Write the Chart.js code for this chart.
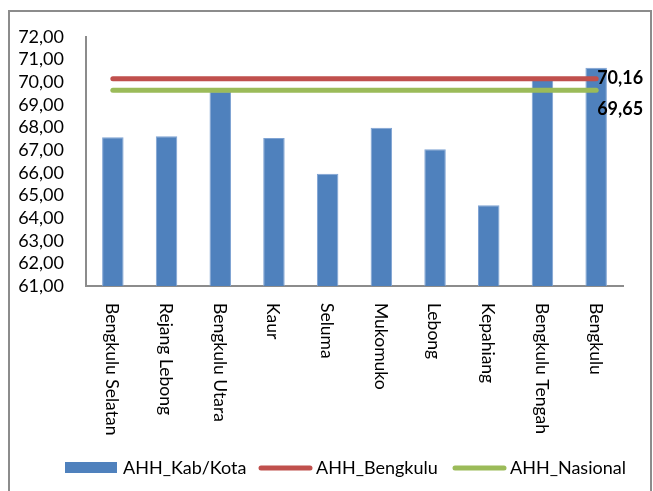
<!DOCTYPE html>
<html>
<head>
<meta charset="utf-8">
<script src="https://cdn.jsdelivr.net/npm/chart.js@4.4.1/dist/chart.umd.min.js"></script>
<style>
    body { margin: 0; background: #fff; }
    #wrap { width: 653px; height: 491px; position: relative; }
</style>
</head>
<body>
<div id="wrap"><canvas id="ahhChart" width="653" height="491"></canvas></div>
<script>
const kabupaten = ["Bengkulu Selatan", "Rejang Lebong", "Bengkulu Utara", "Kaur", "Seluma",
    "Mukomuko", "Lebong", "Kepahiang", "Bengkulu Tengah", "Bengkulu"];
const ahhKabKota = [67.57, 67.61, 69.60, 67.54, 65.96, 67.99, 67.04, 64.57, 70.10, 70.64];
const ahhBengkulu = [70.16, 70.16, 70.16, 70.16, 70.16, 70.16, 70.16, 70.16, 70.16, 70.16];
const ahhNasional = [69.65, 69.65, 69.65, 69.65, 69.65, 69.65, 69.65, 69.65, 69.65, 69.65];
const yTicks = [61, 62, 63, 64, 65, 66, 67, 68, 69, 70, 71, 72];

const BLUE = "#4F81BD";
const RED = "#C0504D";
const GREEN = "#9BBB59";
const AXIS_GRAY = "#8C8C8C";
const FONT = "Lato, 'Open Sans', sans-serif";

function fmt(v) {
    return v.toFixed(2).replace(".", ",");
}

// frame around the whole chart
const framePlugin = {
    id: "frame",
    beforeDraw(chart) {
        const ctx = chart.ctx;
        ctx.save();
        ctx.strokeStyle = AXIS_GRAY;
        ctx.lineWidth = 2;
        ctx.strokeRect(9, 11, 642, 500);
        ctx.restore();
    }
};

// x labels turned clockwise, end labels, legend
const extrasPlugin = {
    id: "extras",
    afterDraw(chart) {
        const ctx = chart.ctx;
        const xScale = chart.scales.x;
        ctx.save();

        ctx.fillStyle = "#000";
        ctx.font = "17.5px " + FONT;
        ctx.textAlign = "left";
        ctx.textBaseline = "middle";
        kabupaten.forEach((name, i) => {
            const x = xScale.getPixelForValue(i);
            ctx.save();
            ctx.translate(x - 1, xScale.top + 17);
            ctx.rotate(Math.PI / 2);
            ctx.fillText(name, 0, 0);
            ctx.restore();
        });

        // value labels at the last point of both lines
        ctx.font = "bold 18px " + FONT;
        const redPt = chart.getDatasetMeta(1).data[ahhBengkulu.length - 1];
        const greenPt = chart.getDatasetMeta(2).data[ahhNasional.length - 1];
        ctx.fillText(fmt(ahhBengkulu[ahhBengkulu.length - 1]), redPt.x + 1, redPt.y);
        ctx.fillText(fmt(ahhNasional[ahhNasional.length - 1]), greenPt.x + 1, greenPt.y + 19);

        // legend
        const items = [
            { text: "AHH_Kab/Kota", color: BLUE, bar: true, x: 65 },
            { text: "AHH_Bengkulu", color: RED, bar: false, x: 258 },
            { text: "AHH_Nasional", color: GREEN, bar: false, x: 452 }
        ];
        const ly = 468;
        ctx.font = "18px " + FONT;
        items.forEach(item => {
            if (item.bar) {
                ctx.fillStyle = item.color;
                ctx.fillRect(item.x, ly - 6, 52, 11);
            } else {
                ctx.strokeStyle = item.color;
                ctx.lineWidth = 5;
                ctx.lineCap = "round";
                ctx.beginPath();
                ctx.moveTo(item.x + 3, ly);
                ctx.lineTo(item.x + 52, ly);
                ctx.stroke();
            }
            ctx.fillStyle = "#000";
            ctx.fillText(item.text, item.x + 58, ly);
        });

        ctx.restore();
    }
};

const ctx = document.getElementById("ahhChart").getContext("2d");
new Chart(ctx, {
    data: {
        labels: kabupaten,
        datasets: [
            {
                type: "bar",
                label: "AHH_Kab/Kota",
                data: ahhKabKota,
                backgroundColor: BLUE,
                borderColor: "#7FA3D3",
                borderWidth: { top: 1, left: 1, right: 1, bottom: 0 },
                barPercentage: 0.4,
                categoryPercentage: 1,
                order: 3
            },
            {
                type: "line",
                label: "AHH_Bengkulu",
                data: ahhBengkulu,
                borderColor: RED,
                borderWidth: 5,
                borderCapStyle: "round",
                pointRadius: 0,
                fill: false,
                order: 2
            },
            {
                type: "line",
                label: "AHH_Nasional",
                data: ahhNasional,
                borderColor: GREEN,
                borderWidth: 5,
                borderCapStyle: "round",
                pointRadius: 0,
                fill: false,
                order: 1
            }
        ]
    },
    options: {
        responsive: false,
        animation: false,
        layout: {
            padding: { left: 10, top: 37, right: 30, bottom: 55 }
        },
        scales: {
            x: {
                grid: { display: false, drawTicks: false },
                border: { color: AXIS_GRAY, width: 2 },
                ticks: { display: false },
                afterFit(scale) { scale.height = 150; }
            },
            y: {
                min: 61,
                max: 72,
                afterBuildTicks(scale) {
                    scale.ticks = yTicks.map(v => ({ value: v }));
                },
                grid: { display: false, drawTicks: false },
                border: { color: AXIS_GRAY, width: 2 },
                ticks: {
                    autoSkip: false,
                    padding: 22,
                    color: "#000",
                    font: { family: FONT, size: 18 },
                    callback: v => fmt(v)
                },
                afterFit(scale) { scale.width = 76; }
            }
        },
        plugins: {
            legend: { display: false },
            tooltip: { enabled: false }
        }
    },
    plugins: [framePlugin, extrasPlugin]
});
</script>
</body>
</html>
